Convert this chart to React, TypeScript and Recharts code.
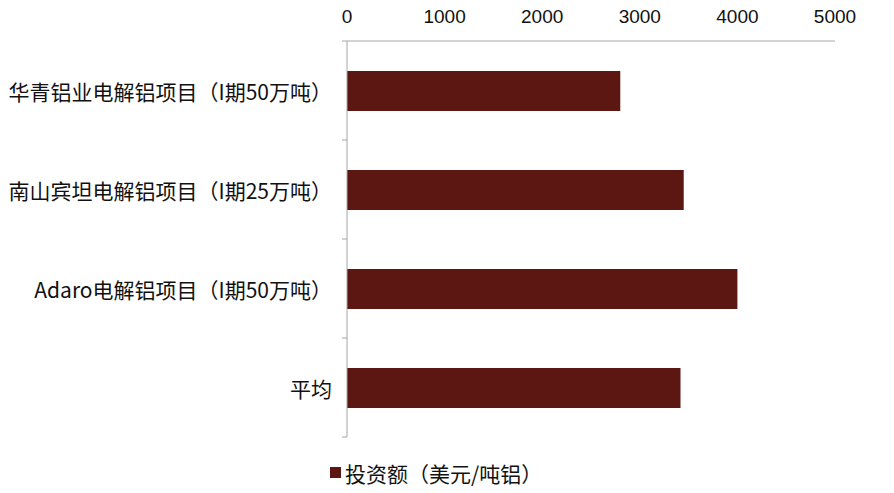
import { BarChart, Bar, XAxis, YAxis, Legend } from "recharts";

const projects = [
  "华青铝业电解铝项目（I期50万吨）",
  "南山宾坦电解铝项目（I期25万吨）",
  "Adaro电解铝项目（I期50万吨）",
  "平均",
];
const investment = [2800, 3450, 4000, 3417];
const xTicks = [0, 1000, 2000, 3000, 4000, 5000];
const seriesName = "投资额（美元/吨铝）";

const data = projects.map((name, i) => ({ name, value: investment[i] }));

const BAR_COLOR = "#5C1713";
const AXIS_COLOR = "#A6A6A6";
const CJK = "'Noto Sans CJK SC', 'Noto Sans', sans-serif";

function CategoryTick(props: any) {
  const { x, y, payload, index } = props;
  const half = payload?.offset || 49.5;
  const top = y - half;
  return (
    <g>
      <line x1={x - 5} x2={x} y1={top} y2={top} stroke={AXIS_COLOR} />
      {index === projects.length - 1 && (
        <line x1={x - 5} x2={x} y1={y + half} y2={y + half} stroke={AXIS_COLOR} />
      )}
      <text
        x={x - 15}
        y={y}
        textAnchor="end"
        dominantBaseline="central"
        fontFamily={CJK}
        fontSize={21}
        fill="#111"
      >
        {payload.value}
      </text>
    </g>
  );
}

function LegendBox() {
  return (
    <div style={{ height: 56, boxSizing: "border-box", paddingTop: 15, paddingLeft: 330, display: "flex", alignItems: "center" }}>
      <span style={{ width: 11, height: 11, background: BAR_COLOR, display: "inline-block", marginRight: 4 }} />
      <span style={{ fontFamily: CJK, fontSize: 21, color: "#111", lineHeight: "24px" }}>{seriesName}</span>
    </div>
  );
}

export default function App() {
  return (
    <div style={{ position: "absolute", left: 0, top: 0, background: "#fff" }}>
      <BarChart
        width={894}
        height={493}
        data={data}
        layout="vertical"
        margin={{ top: 0, right: 59, left: 0, bottom: 0 }}
        barCategoryGap="30%"
      >
        <XAxis
          type="number"
          orientation="top"
          domain={[0, 5000]}
          ticks={xTicks}
          height={41}
          axisLine={{ stroke: AXIS_COLOR }}
          tickLine={false}
          tickSize={6}
          tickMargin={12}
          tick={{ fontSize: 19, fill: "#111", fontFamily: "'Liberation Sans', Arial, sans-serif" }}
        />
        <YAxis
          type="category"
          dataKey="name"
          width={347}
          axisLine={{ stroke: AXIS_COLOR }}
          tickLine={false}
          tickSize={0}
          tickMargin={0}
          tick={<CategoryTick />}
          interval={0}
        />
        <Legend verticalAlign="bottom" content={<LegendBox />} />
        <Bar dataKey="value" name={seriesName} fill={BAR_COLOR} barSize={40} isAnimationActive={false} />
      </BarChart>
    </div>
  );
}
